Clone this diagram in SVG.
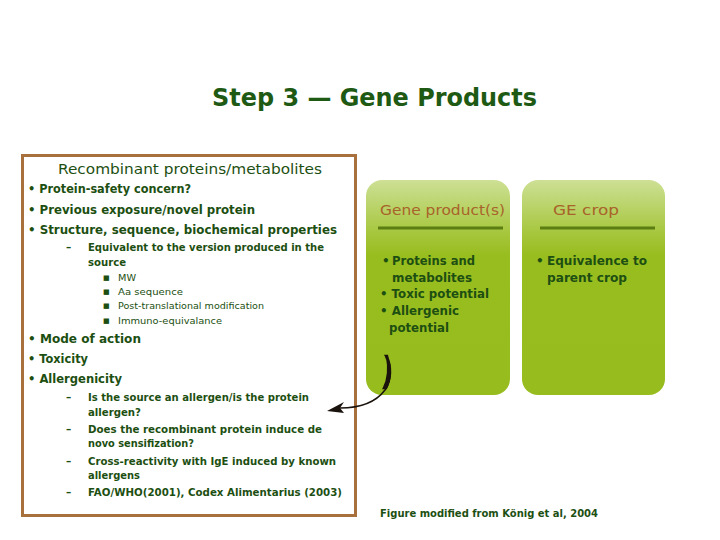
<svg xmlns="http://www.w3.org/2000/svg" width="720" height="540" viewBox="0 0 720 540">
<defs>
<linearGradient id="gb" x1="0" y1="0" x2="0" y2="1">
<stop offset="0" stop-color="#cde095"/>
<stop offset="0.25" stop-color="#a6c63c"/>
<stop offset="0.35" stop-color="#98bd1f"/>
<stop offset="1" stop-color="#97bc1e"/>
</linearGradient>
<style>
text{font-family:"DejaVu Sans","Liberation Sans",sans-serif;fill:#1d4f12;}
.t{font-size:24px;font-weight:bold;fill:#1e5a14;}
.h{font-size:14px;}
.b1{font-size:12.5px;font-weight:bold;}
.b2{font-size:10.5px;font-weight:bold;}
.b3{font-size:9px;}
.sq{font-size:7px;}
.gh{font-size:14.5px;fill:#a8632a;}
.gt{font-size:12px;font-weight:bold;fill:#1d4f12;}
.ft{font-size:10px;font-weight:bold;}
.box{fill:url(#gb);}
.rule{stroke:#5b7d12;stroke-width:3;}
</style>
</defs>
<rect width="720" height="540" fill="#ffffff"/>
<text class="t" x="212" y="106" textLength="325" lengthAdjust="spacingAndGlyphs">Step 3 — Gene Products</text>

<g id="left-box">
<rect x="22.5" y="155.5" width="333" height="360" fill="#ffffff" stroke="#a8703c" stroke-width="3"/>
<text class="h" x="58" y="174" textLength="264" lengthAdjust="spacingAndGlyphs">Recombinant proteins/metabolites</text>
<text class="b1" x="28" y="193" textLength="163" lengthAdjust="spacingAndGlyphs">• Protein-safety concern?</text>
<text class="b1" x="28" y="214" textLength="227" lengthAdjust="spacingAndGlyphs">• Previous exposure/novel protein</text>
<text class="b1" x="28" y="234" textLength="309" lengthAdjust="spacingAndGlyphs">• Structure, sequence, biochemical properties</text>
<text class="b2" x="66" y="251">–</text>
<text class="b2" x="88" y="251" textLength="236" lengthAdjust="spacingAndGlyphs">Equivalent to the version produced in the</text>
<text class="b2" x="88" y="266" textLength="38" lengthAdjust="spacingAndGlyphs">source</text>
<text class="sq" x="103" y="280">■</text>
<text class="b3" x="118" y="281" textLength="18" lengthAdjust="spacingAndGlyphs">MW</text>
<text class="sq" x="103" y="294">■</text>
<text class="b3" x="118" y="295" textLength="65" lengthAdjust="spacingAndGlyphs">Aa sequence</text>
<text class="sq" x="103" y="308">■</text>
<text class="b3" x="118" y="309" textLength="146" lengthAdjust="spacingAndGlyphs">Post-translational modification</text>
<text class="sq" x="103" y="323">■</text>
<text class="b3" x="118" y="324" textLength="104" lengthAdjust="spacingAndGlyphs">Immuno-equivalance</text>
<text class="b1" x="28" y="343" textLength="113" lengthAdjust="spacingAndGlyphs">• Mode of action</text>
<text class="b1" x="28" y="363" textLength="60" lengthAdjust="spacingAndGlyphs">• Toxicity</text>
<text class="b1" x="28" y="383" textLength="94" lengthAdjust="spacingAndGlyphs">• Allergenicity</text>
<text class="b2" x="66" y="401">–</text>
<text class="b2" x="88" y="401" textLength="221" lengthAdjust="spacingAndGlyphs">Is the source an allergen/is the protein</text>
<text class="b2" x="88" y="416" textLength="53" lengthAdjust="spacingAndGlyphs">allergen?</text>
<text class="b2" x="66" y="433">–</text>
<text class="b2" x="88" y="433" textLength="234" lengthAdjust="spacingAndGlyphs">Does the recombinant protein induce de</text>
<text class="b2" x="88" y="447" textLength="106" lengthAdjust="spacingAndGlyphs">novo sensifization?</text>
<text class="b2" x="66" y="465">–</text>
<text class="b2" x="88" y="465" textLength="248" lengthAdjust="spacingAndGlyphs">Cross-reactivity with IgE induced by known</text>
<text class="b2" x="88" y="479" textLength="52" lengthAdjust="spacingAndGlyphs">allergens</text>
<text class="b2" x="66" y="496">–</text>
<text class="b2" x="88" y="496" textLength="254" lengthAdjust="spacingAndGlyphs">FAO/WHO(2001), Codex Alimentarius (2003)</text>
</g>

<g id="gene-products">
<rect class="box" x="366" y="180" width="144" height="215" rx="16"/>
<text class="gh" x="380" y="215" textLength="125" lengthAdjust="spacingAndGlyphs">Gene product(s)</text>
<line class="rule" x1="378" y1="228" x2="503" y2="228"/>
<text class="gt" x="382" y="265">•</text>
<text class="gt" x="392" y="265" textLength="83" lengthAdjust="spacingAndGlyphs">Proteins and</text>
<text class="gt" x="392" y="282" textLength="80" lengthAdjust="spacingAndGlyphs">metabolites</text>
<text class="gt" x="380" y="298" textLength="109" lengthAdjust="spacingAndGlyphs">• Toxic potential</text>
<text class="gt" x="380" y="315" textLength="79" lengthAdjust="spacingAndGlyphs">• Allergenic</text>
<text class="gt" x="389" y="332" textLength="60" lengthAdjust="spacingAndGlyphs">potential</text>
</g>

<g id="ge-crop">
<rect class="box" x="522" y="180" width="143" height="215" rx="16"/>
<text class="gh" x="553" y="215" textLength="66" lengthAdjust="spacingAndGlyphs">GE  crop</text>
<line class="rule" x1="540" y1="228" x2="655" y2="228"/>
<text class="gt" x="536" y="265">•</text>
<text class="gt" x="547" y="265" textLength="100" lengthAdjust="spacingAndGlyphs">Equivalence to</text>
<text class="gt" x="547" y="282" textLength="80" lengthAdjust="spacingAndGlyphs">parent crop</text>
</g>

<g id="connectors">
<path d="M387 356 C392 366 392 380 385 390 C376 402 360 408 340 408" fill="none" stroke="#1a120c" stroke-width="1.5"/>
<path d="M386 356 C391 366 391 378 386 388 L384 388 C389 378 389 366 387 356 Z" fill="#1a120c" stroke="#1a120c" stroke-width="2.5"/>
<polygon points="327,411 344,402 340,408 344,413" fill="#1a120c"/>
</g>

<text class="ft" x="380" y="517" textLength="218" lengthAdjust="spacingAndGlyphs">Figure modified from König et al, 2004</text>
</svg>
